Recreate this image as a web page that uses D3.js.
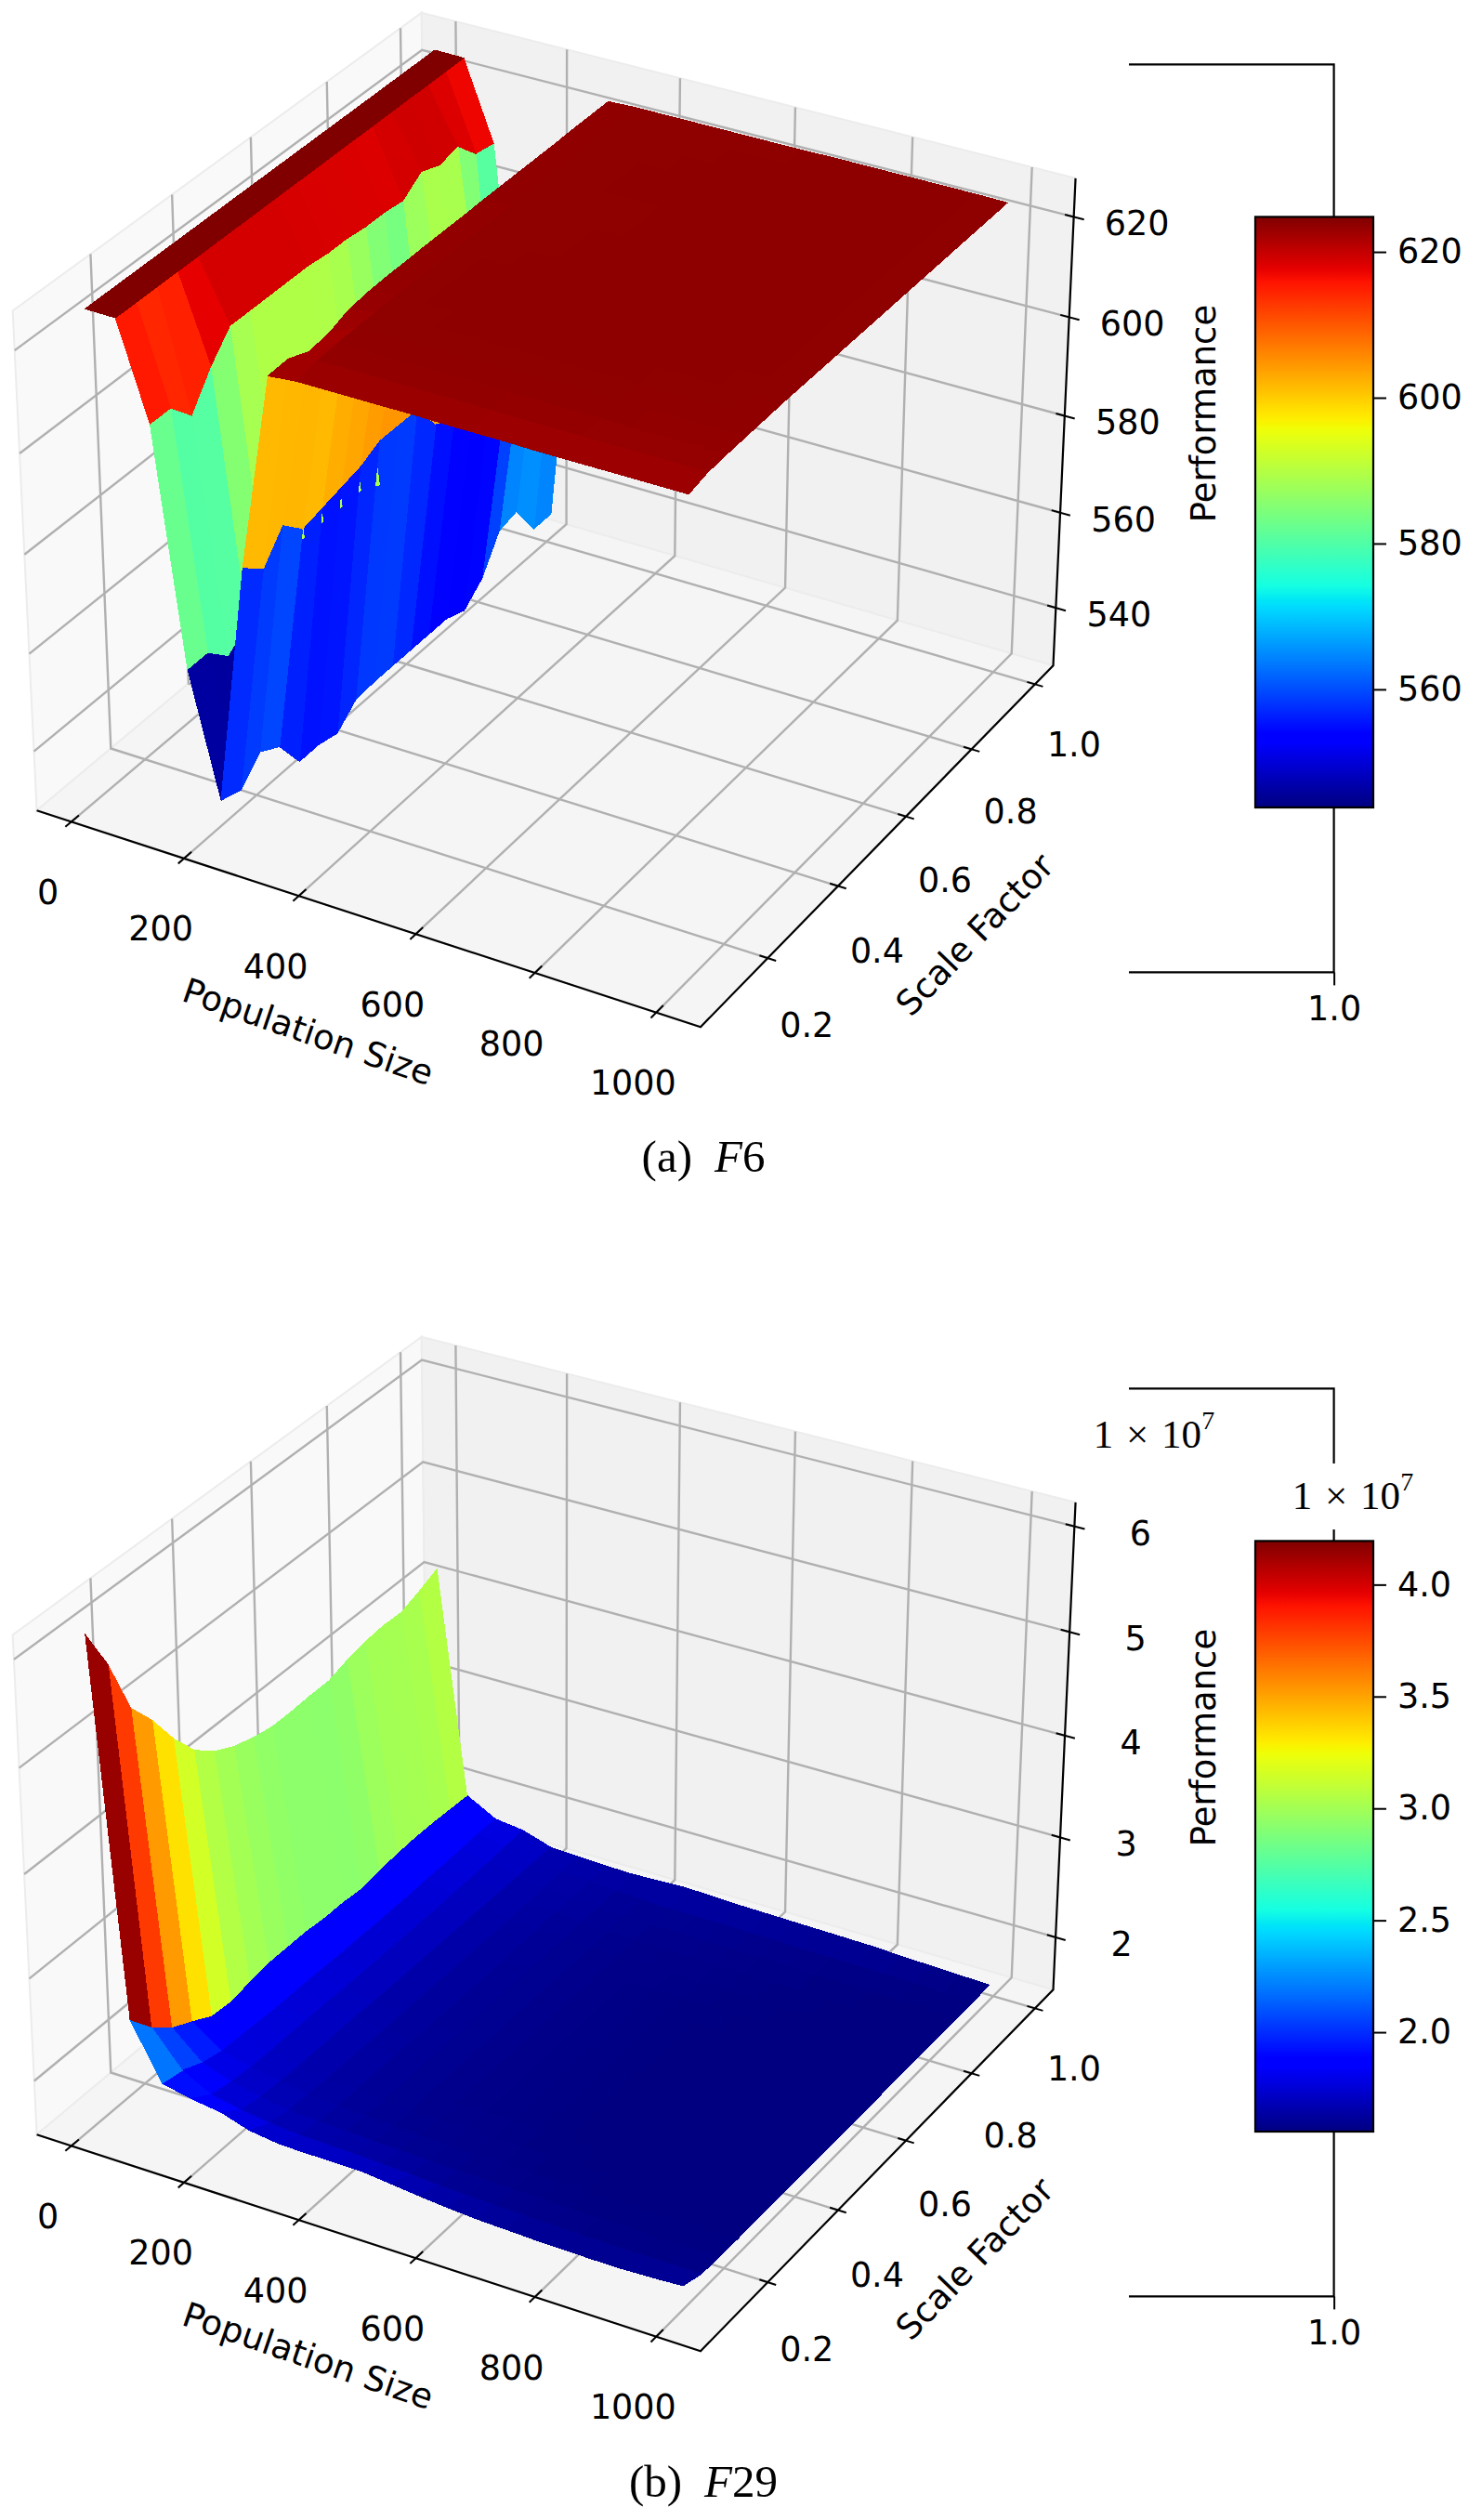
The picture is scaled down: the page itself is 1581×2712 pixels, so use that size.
<!DOCTYPE html>
<html>
<head>
<meta charset="utf-8">
<script src="https://cdn.jsdelivr.net/npm/d3@7"></script>
<style>
  body { margin: 0; background: #fff; }
  text { font-family: "DejaVu Sans", sans-serif; fill: #000; }
  .serif text, text.serif { font-family: "Liberation Serif", serif; }
</style>
</head>
<body>
<div class="chart"></div>
<script>
// values
var populationSize = [0, 52, 105, 156, 208, 258, 310, 358, 406, 454, 503, 551, 599, 647, 696, 744, 792, 840, 892, 941, 992];
var scaleFactor = [0.1, 0.15, 0.2, 0.25, 0.3, 0.35, 0.4, 0.45, 0.5, 0.55, 0.6, 0.65, 0.7, 0.75, 0.8, 0.85, 0.9, 0.95, 1.0];

var xTicks = [0, 200, 400, 600, 800, 1000];
var yTicks = [0.2, 0.4, 0.6, 0.8, 1.0];
var f6ZTicks = [540, 560, 580, 600, 620];
var f29ZTicks = [2, 3, 4, 5, 6];
var f6BarTicks = [560, 580, 600, 620];
var f29BarTicks = [2, 2.5, 3, 3.5, 4];

// one row per population size, one column per scale factor
var f6Performance = [
  [624.9, 624.9, 624.9, 624.9, 624.9, 624.9, 624.9, 624.9, 624.9, 624.9, 624.9, 624.9, 624.9, 624.9, 624.9, 624.9, 624.9, 624.9, 624.9],
  [624.8, 624.8, 624.8, 624.8, 624.8, 624.8, 624.8, 624.8, 624.8, 624.8, 624.8, 624.8, 624.8, 624.8, 624.8, 624.8, 624.8, 624.8, 624.8],
  [606, 606, 601.5, 608, 613, 613, 613, 613, 613, 612.5, 612.5, 612, 612, 611.5, 614.5, 613, 614, 609.7, 609],
  [559, 559, 555, 558, 562, 566, 566, 566, 566, 566, 564, 560, 556, 556, 568, 560, 568, 548, 556],
  [534, 532.6, 537, 534.6, 528, 528, 527, 530.6, 531, 531, 531, 531, 531, 529.5, 533, 540, 541, 534, 534],
  [583, 579.5, 585, 581, 582, 583, 584, 586, 586, 586, 580, 578, 576, 576, 578, 585, 592, 594, 596],
  [622, 622.2, 620.5, 621, 622.5, 623, 623.2, 623.2, 623.3, 623.3, 623.3, 623.4, 623.4, 623.4, 623.4, 623.4, 623.5, 623.5, 623.5],
  [622.5, 623.3, 623.6, 623.7, 623.7, 623.7, 623.7, 623.7, 623.7, 623.7, 623.7, 623.7, 623.7, 623.7, 623.7, 623.7, 623.7, 623.7, 623.7],
  [622.5, 623.4, 623.6, 623.7, 623.7, 623.7, 623.8, 623.8, 623.7, 623.7, 623.7, 623.7, 623.7, 623.7, 623.7, 623.7, 623.7, 623.7, 623.7],
  [622.5, 623.4, 623.6, 623.7, 623.8, 623.8, 623.8, 623.8, 623.8, 623.7, 623.7, 623.7, 623.7, 623.8, 623.8, 623.7, 623.7, 623.7, 623.7],
  [622.5, 623.3, 623.6, 623.7, 623.8, 623.8, 623.8, 623.8, 623.8, 623.8, 623.8, 623.7, 623.7, 623.8, 623.8, 623.8, 623.7, 623.7, 623.7],
  [622.5, 623.3, 623.6, 623.7, 623.8, 623.8, 623.8, 623.8, 623.8, 623.8, 623.8, 623.8, 623.7, 623.8, 623.8, 623.8, 623.8, 623.7, 623.7],
  [622.4, 623.3, 623.6, 623.7, 623.8, 623.8, 623.8, 623.8, 623.8, 623.8, 623.8, 623.8, 623.8, 623.8, 623.8, 623.8, 623.8, 623.8, 623.7],
  [622.4, 623.3, 623.5, 623.7, 623.8, 623.8, 623.8, 623.8, 623.8, 623.8, 623.8, 623.8, 623.8, 623.8, 623.8, 623.8, 623.8, 623.8, 623.7],
  [622.4, 623.2, 623.5, 623.7, 623.8, 623.8, 623.8, 623.8, 623.8, 623.8, 623.8, 623.8, 623.8, 623.8, 623.8, 623.8, 623.8, 623.8, 623.8],
  [622.3, 623.2, 623.5, 623.7, 623.8, 623.8, 623.8, 623.8, 623.8, 623.8, 623.8, 623.8, 623.8, 623.8, 623.8, 623.8, 623.8, 623.8, 623.8],
  [622.3, 623.2, 623.5, 623.7, 623.7, 623.8, 623.8, 623.8, 623.8, 623.8, 623.8, 623.8, 623.8, 623.8, 623.8, 623.8, 623.8, 623.8, 623.8],
  [622.3, 623.2, 623.4, 623.6, 623.7, 623.8, 623.8, 623.8, 623.8, 623.8, 623.8, 623.8, 623.8, 623.8, 623.8, 623.8, 623.8, 623.8, 623.8],
  [622.3, 623.2, 623.4, 623.6, 623.7, 623.7, 623.8, 623.8, 623.8, 623.8, 623.8, 623.8, 623.8, 623.8, 623.8, 623.8, 623.8, 623.8, 623.8],
  [622.3, 623.2, 623.4, 623.6, 623.7, 623.7, 623.7, 623.8, 623.8, 623.8, 623.8, 623.8, 623.8, 623.8, 623.8, 623.8, 623.8, 623.8, 623.8],
  [622.3, 623.2, 623.4, 623.5, 623.6, 623.7, 623.7, 623.7, 623.7, 623.7, 623.7, 623.7, 623.7, 623.7, 623.7, 623.7, 623.7, 623.7, 623.7]
];

var f29Performance = [
  [6.08, 5.66, 5.11, 4.85, 4.53, 4.27, 4.11, 4.01, 3.95, 3.91, 3.91, 3.92, 3.92, 3.98, 4.02, 4.04, 4.03, 4.10, 4.18],
  [2.52, 2.29, 2.12, 2.02, 1.91, 1.89, 1.93, 1.96, 1.96, 1.96, 1.94, 1.94, 1.92, 1.95, 1.97, 1.98, 1.98, 1.97, 1.96],
  [1.99, 1.95, 1.86, 1.81, 1.80, 1.79, 1.78, 1.78, 1.78, 1.77, 1.77, 1.77, 1.77, 1.77, 1.78, 1.78, 1.79, 1.80, 1.80],
  [1.93, 1.80, 1.76, 1.74, 1.73, 1.73, 1.73, 1.73, 1.72, 1.72, 1.72, 1.72, 1.72, 1.72, 1.73, 1.73, 1.74, 1.75, 1.765],
  [1.89, 1.74, 1.70, 1.69, 1.68, 1.68, 1.68, 1.68, 1.67, 1.67, 1.67, 1.67, 1.67, 1.67, 1.67, 1.67, 1.67, 1.67, 1.672],
  [1.80, 1.70, 1.66, 1.65, 1.64, 1.64, 1.64, 1.63, 1.63, 1.63, 1.63, 1.63, 1.63, 1.63, 1.63, 1.64, 1.64, 1.65, 1.66],
  [1.76, 1.68, 1.64, 1.63, 1.62, 1.62, 1.62, 1.62, 1.61, 1.61, 1.61, 1.61, 1.61, 1.62, 1.62, 1.63, 1.63, 1.64, 1.645],
  [1.755, 1.67, 1.63, 1.61, 1.60, 1.60, 1.60, 1.60, 1.60, 1.60, 1.60, 1.60, 1.60, 1.60, 1.60, 1.61, 1.61, 1.62, 1.64],
  [1.755, 1.665, 1.62, 1.60, 1.59, 1.59, 1.59, 1.59, 1.59, 1.59, 1.59, 1.59, 1.59, 1.59, 1.59, 1.60, 1.60, 1.61, 1.65],
  [1.75, 1.65, 1.61, 1.59, 1.585, 1.58, 1.58, 1.58, 1.58, 1.58, 1.58, 1.58, 1.58, 1.58, 1.58, 1.59, 1.59, 1.60, 1.66],
  [1.72, 1.64, 1.60, 1.585, 1.58, 1.575, 1.575, 1.575, 1.575, 1.575, 1.575, 1.575, 1.575, 1.575, 1.58, 1.58, 1.59, 1.60, 1.65],
  [1.69, 1.62, 1.59, 1.58, 1.575, 1.57, 1.57, 1.57, 1.57, 1.57, 1.57, 1.57, 1.57, 1.57, 1.575, 1.58, 1.585, 1.60, 1.64],
  [1.665, 1.61, 1.585, 1.575, 1.57, 1.565, 1.565, 1.565, 1.565, 1.565, 1.565, 1.565, 1.565, 1.57, 1.57, 1.575, 1.58, 1.595, 1.635],
  [1.645, 1.60, 1.58, 1.57, 1.565, 1.56, 1.56, 1.56, 1.56, 1.56, 1.56, 1.56, 1.56, 1.565, 1.57, 1.57, 1.58, 1.59, 1.63],
  [1.635, 1.59, 1.575, 1.565, 1.56, 1.56, 1.56, 1.56, 1.56, 1.56, 1.56, 1.56, 1.56, 1.56, 1.565, 1.57, 1.575, 1.585, 1.625],
  [1.625, 1.585, 1.57, 1.56, 1.56, 1.56, 1.56, 1.56, 1.56, 1.56, 1.56, 1.56, 1.56, 1.56, 1.56, 1.565, 1.57, 1.58, 1.62],
  [1.62, 1.58, 1.565, 1.56, 1.56, 1.56, 1.56, 1.56, 1.56, 1.56, 1.56, 1.56, 1.56, 1.56, 1.56, 1.56, 1.565, 1.58, 1.615],
  [1.615, 1.58, 1.565, 1.56, 1.56, 1.56, 1.56, 1.56, 1.56, 1.56, 1.56, 1.56, 1.56, 1.56, 1.56, 1.56, 1.56, 1.575, 1.60],
  [1.615, 1.575, 1.56, 1.56, 1.56, 1.56, 1.56, 1.56, 1.56, 1.56, 1.56, 1.56, 1.56, 1.56, 1.56, 1.56, 1.56, 1.57, 1.59],
  [1.625, 1.575, 1.565, 1.56, 1.56, 1.56, 1.56, 1.56, 1.56, 1.56, 1.56, 1.56, 1.56, 1.56, 1.56, 1.56, 1.56, 1.565, 1.58],
  [1.64, 1.574, 1.565, 1.56, 1.56, 1.56, 1.56, 1.56, 1.56, 1.56, 1.56, 1.56, 1.56, 1.56, 1.56, 1.56, 1.56, 1.56, 1.568]
];

var width = 1581;
var height = 2712;
var tickFont = 36.5;

var svg = d3.select('.chart').append('svg')
  .attr('width', width)
  .attr('height', height)
  .style('display', 'block');
var defs = svg.append('defs');

// jet colormap
var jetR = d3.scaleLinear().domain([0, 0.35, 0.66, 0.89, 1]).range([0, 0, 1, 1, 0.5]).clamp(true);
var jetG = d3.scaleLinear().domain([0, 0.125, 0.375, 0.64, 0.91, 1]).range([0, 0, 1, 1, 0, 0]).clamp(true);
var jetB = d3.scaleLinear().domain([0, 0.11, 0.34, 0.65, 1]).range([0.5, 1, 1, 0, 0]).clamp(true);
function jet(t) {
  return d3.rgb(jetR(t) * 255, jetG(t) * 255, jetB(t) * 255).formatHex();
}

// the camera of a default 3d axes: elev 30, azim -60, box aspect 4:4:3
var elev = 30 * Math.PI / 180;
var azim = -60 * Math.PI / 180;
var eyeDist = 10;
var aspectK = 1.8294640721620434 * 25 / 24 / Math.hypot(4, 4, 3);
var half = [2 * aspectK, 2 * aspectK, 1.5 * aspectK];
var w0 = [Math.cos(elev) * Math.cos(azim), Math.cos(elev) * Math.sin(azim), Math.sin(elev)];
var u0 = [-Math.sin(azim), Math.cos(azim), 0];
var v0 = [w0[1] * u0[2] - w0[2] * u0[1], w0[2] * u0[0] - w0[0] * u0[2], w0[0] * u0[1] - w0[1] * u0[0]];
function dot(a, b) { return a[0] * b[0] + a[1] * b[1] + a[2] * b[2]; }

var viewX = d3.scaleLinear().domain([-0.0810, 0.0816]).range([39.8, 1157.6]);
var viewY = d3.scaleLinear().domain([-0.0833, 0.0756]).range([1105, 14.3]);

// limits of the box, wider than the data as in the reference
var xBox = d3.scaleLinear().domain([-62, 1072]).range([0, 1]);
var yBox = d3.scaleLinear().domain([0.0153, 1.0586]).range([0, 1]);

function project(a, b, c) {
  var p = [(2 * a - 1) * half[0], (2 * b - 1) * half[1], (2 * c - 1) * half[2]];
  var d = eyeDist - dot(w0, p);
  return { x: viewX(dot(u0, p) / d), y: viewY(dot(v0, p) / d), depth: d };
}

var pathLine = d3.line().x(function(d) { return d.x; }).y(function(d) { return d.y; });
function polyPath(pts) { return pathLine(pts) + 'Z'; }

function drawPanel(opts) {
  var g = svg.append('g').attr('transform', 'translate(0,' + opts.dy + ')');
  var zBox = d3.scaleLinear().domain(opts.zBox).range([0, 1]);
  var colorNorm = d3.scaleLinear().domain(opts.colorRange).range([0, 1]);

  // panes
  var panes = [
    { fill: '#f9f9f9', pts: [[0, 0, 0], [0, 1, 0], [0, 1, 1], [0, 0, 1]] },
    { fill: '#f1f1f1', pts: [[0, 1, 0], [1, 1, 0], [1, 1, 1], [0, 1, 1]] },
    { fill: '#f5f5f5', pts: [[0, 0, 0], [1, 0, 0], [1, 1, 0], [0, 1, 0]] }
  ];
  g.selectAll('.pane').data(panes).enter().append('path')
    .attr('class', 'pane')
    .attr('d', function(d) { return polyPath(d.pts.map(function(p) { return project(p[0], p[1], p[2]); })); })
    .attr('fill', function(d) { return d.fill; })
    .attr('stroke', '#ececec')
    .attr('stroke-width', 2);

  // grid lines, each one bends at the corner of two panes
  var gridPaths = [];
  xTicks.forEach(function(t) {
    var a = xBox(t);
    gridPaths.push([project(a, 0, 0), project(a, 1, 0), project(a, 1, 1)]);
  });
  yTicks.forEach(function(t) {
    var b = yBox(t);
    gridPaths.push([project(1, b, 0), project(0, b, 0), project(0, b, 1)]);
  });
  opts.zTicks.forEach(function(t) {
    var c = zBox(t);
    gridPaths.push([project(0, 0, c), project(0, 1, c), project(1, 1, c)]);
  });
  g.selectAll('.grid').data(gridPaths).enter().append('path')
    .attr('class', 'grid')
    .attr('d', pathLine)
    .attr('fill', 'none')
    .attr('stroke', '#b0b0b0')
    .attr('stroke-width', 2.4);

  // axis lines
  var axisPaths = [
    [project(0, 0, 0), project(1, 0, 0), project(1, 1, 0), project(1, 1, 1)]
  ];
  g.selectAll('.axis-line').data(axisPaths).enter().append('path')
    .attr('class', 'axis-line')
    .attr('d', pathLine)
    .attr('fill', 'none')
    .attr('stroke', '#000')
    .attr('stroke-width', 2.2);

  // ticks and their labels
  var tickMarks = [];
  var tickTexts = [];
  xTicks.forEach(function(t) {
    var a = xBox(t), p = project(a, 0, 0);
    tickMarks.push([project(a, -0.014, 0), project(a, 0.018, 0)]);
    tickTexts.push({ x: p.x - 25, y: p.y + 76, label: String(t) });
  });
  yTicks.forEach(function(t) {
    var b = yBox(t), p = project(1, b, 0);
    tickMarks.push([project(0.988, b, 0), project(1.012, b, 0)]);
    tickTexts.push({ x: p.x + 42, y: p.y + 65 + (1 - t) * 9, label: d3.format('.1f')(t) });
  });
  opts.zTicks.forEach(function(t) {
    var c = zBox(t), p = project(1, 1, c);
    tickMarks.push([project(0.987, 1, c), project(1.015, 1, c)]);
    tickTexts.push({ x: p.x + opts.zLabelDx, y: p.y + 7.5, label: String(t) });
  });
  g.selectAll('.tick-mark').data(tickMarks).enter().append('path')
    .attr('class', 'tick-mark')
    .attr('d', pathLine)
    .attr('stroke', '#000')
    .attr('stroke-width', 2);
  g.selectAll('.tick-text').data(tickTexts).enter().append('text')
    .attr('class', 'tick-text')
    .attr('x', function(d) { return d.x; })
    .attr('y', function(d) { return d.y; })
    .attr('text-anchor', 'middle')
    .attr('dominant-baseline', 'central')
    .attr('font-size', tickFont)
    .text(function(d) { return d.label; });

  // surface facets, far ones first, one flat color per facet
  var facets = [];
  for (var i = 0; i < populationSize.length - 1; i++) {
    for (var j = 0; j < scaleFactor.length - 1; j++) {
      var cells = [[i, j], [i + 1, j], [i + 1, j + 1], [i, j + 1]];
      var pts = cells.map(function(c) {
        return project(xBox(populationSize[c[0]]), yBox(scaleFactor[c[1]]), zBox(opts.z[c[0]][c[1]]));
      });
      facets.push({
        pts: pts,
        depth: d3.mean(pts, function(p) { return p.depth; }),
        value: d3.mean(cells, function(c) { return opts.z[c[0]][c[1]]; })
      });
    }
  }
  facets.sort(function(a, b) { return b.depth - a.depth; });
  g.selectAll('.facet').data(facets).enter().append('path')
    .attr('class', 'facet')
    .attr('d', function(d) { return polyPath(d.pts); })
    .attr('fill', function(d) { return jet(colorNorm(d.value)); })
    .attr('stroke', function(d) { return jet(colorNorm(d.value)); })
    .attr('stroke-width', 1)
    .attr('shape-rendering', 'crispEdges');

  // axis titles
  var front = project(0.5, 0, 0);
  g.append('text')
    .attr('transform', 'translate(' + (front.x - 56) + ',' + (front.y + 125) + ') rotate(19)')
    .attr('text-anchor', 'middle')
    .attr('dominant-baseline', 'central')
    .attr('font-size', 37)
    .text('Population Size');
  var side = project(1, 0.5, 0);
  g.append('text')
    .attr('transform', 'translate(' + (side.x + 97) + ',' + (side.y + 104) + ') rotate(-46)')
    .attr('text-anchor', 'middle')
    .attr('dominant-baseline', 'central')
    .attr('font-size', 37)
    .text('Scale Factor');

  // the empty frame left behind the colorbar
  var frameX = d3.scaleLinear().domain([0.5, 1]).range([1215, 1435.6]);
  g.append('path')
    .attr('d', d3.line()([[1215, 69.4], [1435.6, 69.4], [1435.6, 1046.4], [1215, 1046.4]]))
    .attr('fill', 'none')
    .attr('stroke', '#000')
    .attr('stroke-width', 2.2);
  var frameAxis = g.append('g')
    .attr('transform', 'translate(0,1046.4)')
    .call(d3.axisBottom(frameX).tickValues([1]).tickFormat(d3.format('.1f')).tickSize(14).tickPadding(12));
  frameAxis.select('.domain').remove();
  frameAxis.selectAll('line').attr('stroke-width', 2);
  frameAxis.selectAll('text').attr('font-size', tickFont).attr('font-family', '"DejaVu Sans"');

  // colorbar
  var barTop = 233.4;
  var barBottom = 869;
  var barY = d3.scaleLinear().domain(opts.colorRange).range([barBottom, barTop]);
  var gradId = 'jet-' + opts.name;
  defs.append('linearGradient')
    .attr('id', gradId)
    .attr('x1', 0).attr('y1', 1).attr('x2', 0).attr('y2', 0)
    .selectAll('stop')
    .data(d3.range(0, 1.001, 1 / 128))
    .enter().append('stop')
    .attr('offset', function(d) { return d; })
    .attr('stop-color', jet);

  if (opts.offsetText) {
    // white box of the offset label cuts the frame line
    g.append('rect')
      .attr('x', 1365).attr('y', 150)
      .attr('width', 160).attr('height', 71)
      .attr('fill', '#fff');
    offsetLabel(g, 1242, 118);
    offsetLabel(g, 1456, 184);
  }

  g.append('rect')
    .attr('x', 1351)
    .attr('y', barTop)
    .attr('width', 127)
    .attr('height', barBottom - barTop)
    .attr('fill', 'url(#' + gradId + ')')
    .attr('stroke', '#000')
    .attr('stroke-width', 2.2);
  var barAxis = g.append('g')
    .attr('transform', 'translate(1478,0)')
    .call(d3.axisRight(barY).tickValues(opts.barTicks).tickFormat(opts.barFormat).tickSize(14).tickPadding(12));
  barAxis.select('.domain').remove();
  barAxis.selectAll('line').attr('stroke-width', 2);
  barAxis.selectAll('text').attr('font-size', tickFont).attr('font-family', '"DejaVu Sans"');

  g.append('text')
    .attr('transform', 'translate(1295,445) rotate(-90)')
    .attr('text-anchor', 'middle')
    .attr('dominant-baseline', 'central')
    .attr('font-size', 37)
    .text('Performance');

  // caption
  var cap = g.append('text')
    .attr('class', 'serif')
    .attr('x', 757)
    .attr('y', opts.captionY)
    .attr('text-anchor', 'middle')
    .attr('font-size', 49);
  cap.append('tspan').text(opts.caption[0]);
  cap.append('tspan').attr('dx', 24).attr('font-style', 'italic').text('F');
  cap.append('tspan').text(opts.caption[1]);
}

function offsetLabel(g, x, y) {
  var t = g.append('text')
    .attr('class', 'serif')
    .attr('x', x)
    .attr('y', y)
    .attr('text-anchor', 'middle')
    .attr('dominant-baseline', 'central')
    .attr('font-size', 43)
    .style('word-spacing', '3px');
  t.append('tspan').text('1 \u00d7 10');
  t.append('tspan').attr('font-size', 28).attr('dy', -15).text('7');
}

drawPanel({
  name: 'f6',
  dy: 0,
  z: f6Performance,
  zBox: [527.7, 627.6],
  zTicks: f6ZTicks,
  zLabelDx: 68,
  colorRange: [543.8, 624.8],
  barTicks: f6BarTicks,
  barFormat: d3.format('d'),
  offsetText: false,
  captionY: 1261,
  caption: ['(a)', '6']
});

drawPanel({
  name: 'f29',
  dy: 1425,
  z: f29Performance,
  zBox: [1.469, 6.224],
  zTicks: f29ZTicks,
  zLabelDx: 71,
  colorRange: [1.556, 4.195],
  barTicks: f29BarTicks,
  barFormat: d3.format('.1f'),
  offsetText: true,
  captionY: 1262,
  caption: ['(b)', '29']
});
</script>
</body>
</html>
